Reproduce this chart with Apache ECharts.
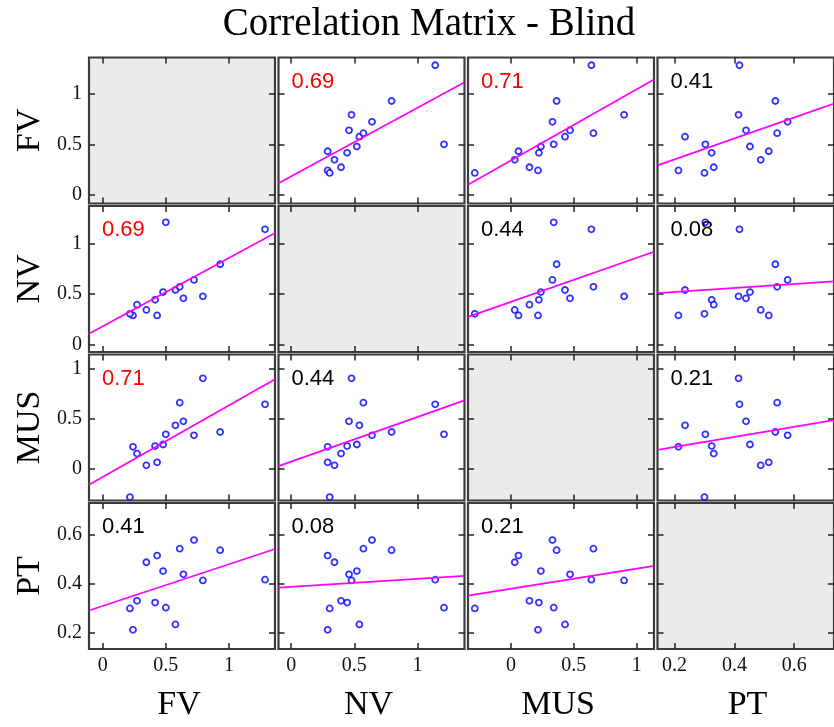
<!DOCTYPE html>
<html><head><meta charset="utf-8">
<script src="https://cdn.jsdelivr.net/npm/echarts@6/dist/echarts.min.js"></script>
<style>html,body{margin:0;padding:0;background:#fff}#c{width:834px;height:727px}</style>
</head><body><div id="c"></div>
<script>
// ---- data ----
const variables = ['FV', 'NV', 'MUS', 'PT'];
const FV  = [1.285, 0.500, 0.930, 0.793, 0.723, 0.639, 0.576, 0.610, 0.478, 0.431, 0.415, 0.346, 0.272, 0.240, 0.216];
const NV  = [1.140, 1.210, 0.795, 0.478, 0.640, 0.458, 0.540, 0.572, 0.520, 0.289, 0.443, 0.343, 0.395, 0.289, 0.305];
const MUS = [0.640, 0.340, 0.363, 0.900, 0.330, 0.470, 0.430, 0.656, 0.238, 0.060, 0.222, 0.030, 0.147, 0.215, -0.288];
const PT  = [0.417, 0.303, 0.537, 0.414, 0.578, 0.439, 0.235, 0.543, 0.452, 0.515, 0.324, 0.488, 0.331, 0.213, 0.300];
const corrLabels = [
  [null, '0.69', '0.71', '0.41'],
  ['0.69', null, '0.44', '0.08'],
  ['0.71', '0.44', null, '0.21'],
  ['0.41', '0.08', '0.21', null]
];
const corrColors = [
  [null, 'red', 'red', 'black'],
  ['red', null, 'black', 'black'],
  ['red', 'black', null, 'black'],
  ['black', 'black', 'black', null]
];
const tickValues = [[0, 0.5, 1], [0, 0.5, 1], [0, 0.5, 1], [0.2, 0.4, 0.6]];
const tickLabels = [['0', '0.5', '1'], ['0', '0.5', '1'], ['0', '0.5', '1'], ['0.2', '0.4', '0.6']];
const xMin = [-0.108, -0.100, -0.342, 0.143];
const xMax = [1.364, 1.372, 1.138, 0.733];
const yMin = [-0.088, -0.073, -0.322, 0.135];
const yMax = [1.362, 1.371, 1.138, 0.729];
const titleText = 'Correlation Matrix - Blind';

// ---- layout ----
const colLeft = [89, 278.5, 468, 657.5];
const rowTop = [57.5, 206, 354.5, 503];
const W = 186, H = 146;
const serif = "'Liberation Serif','Times New Roman',serif";
const sans = "'Liberation Sans',Arial,sans-serif";

const vals = [FV, NV, MUS, PT];

function fit(x, y) {
  const n = x.length;
  let mx = 0, my = 0;
  for (let i = 0; i < n; i++) { mx += x[i]; my += y[i]; }
  mx /= n; my /= n;
  let sxy = 0, sxx = 0;
  for (let i = 0; i < n; i++) { sxy += (x[i] - mx) * (y[i] - my); sxx += (x[i] - mx) * (x[i] - mx); }
  const b = sxy / sxx;
  return { a: my - b * mx, b: b };
}

const grids = [], xAxes = [], yAxes = [], series = [], graphics = [];
const noLine = { show: false, onZero: false };
const tickStyle = { show: true, inside: true, length: 6, lineStyle: { color: '#222', width: 1.5 } };

function tickAxis(k, pos, mn, mx, ticks) {
  return {
    gridIndex: k, type: 'value', position: pos, min: mn, max: mx,
    axisLine: noLine, splitLine: { show: false },
    axisTick: Object.assign({ customValues: ticks }, tickStyle),
    axisLabel: { show: false }
  };
}
function labelAxis(k, pos, mn, mx, ticks, labels) {
  return {
    gridIndex: k, type: 'value', position: pos, min: mn, max: mx,
    axisLine: noLine, splitLine: { show: false }, axisTick: { show: false },
    axisLabel: {
      show: true, customValues: ticks, margin: 7,
      formatter: v => { const idx = ticks.findIndex(t => Math.abs(t - v) < 1e-9); return idx >= 0 ? labels[idx] : ''; },
      fontFamily: serif, fontSize: 20, color: '#111'
    }
  };
}

let k = 0;
for (let i = 0; i < 4; i++) {
  for (let j = 0; j < 4; j++) {
    grids.push({
      left: colLeft[j], top: rowTop[i], width: W, height: H,
      show: true, borderColor: '#3c3c3c', borderWidth: 2.2,
      backgroundColor: i === j ? '#ebebeb' : '#ffffff'
    });
    const xi = xAxes.length, yi = yAxes.length;
    xAxes.push(tickAxis(k, 'bottom', xMin[j], xMax[j], tickValues[j]));
    xAxes.push(tickAxis(k, 'top', xMin[j], xMax[j], tickValues[j]));
    if (i === 3) xAxes.push(labelAxis(k, 'bottom', xMin[j], xMax[j], tickValues[j], tickLabels[j]));
    yAxes.push(tickAxis(k, 'left', yMin[i], yMax[i], tickValues[i]));
    yAxes.push(tickAxis(k, 'right', yMin[i], yMax[i], tickValues[i]));
    if (j === 0) yAxes.push(labelAxis(k, 'left', yMin[i], yMax[i], tickValues[i], tickLabels[i]));
    if (i !== j) {
      const xs = vals[j], ys = vals[i];
      const pts = xs.map((x, n) => [x, ys[n]]);
      series.push({
        type: 'scatter', xAxisIndex: xi, yAxisIndex: yi, data: pts,
        symbol: 'circle', symbolSize: 6,
        itemStyle: { color: '#ffffff', borderColor: '#0000ff', borderWidth: 1.8 },
        z: 2
      });
      const f = fit(xs, ys);
      series.push({
        type: 'line', xAxisIndex: xi, yAxisIndex: yi,
        data: [[xMin[j], f.a + f.b * xMin[j]], [xMax[j], f.a + f.b * xMax[j]]],
        showSymbol: false, symbol: 'none', clip: true,
        lineStyle: { color: '#ff00ff', width: 1.7 }, z: 3
      });
      graphics.push({
        type: 'text', left: colLeft[j] + 13, top: rowTop[i] + 13,
        style: { text: corrLabels[i][j], fill: corrColors[i][j] === 'red' ? '#ff0000' : '#000000', font: '22px ' + sans },
        z: 10
      });
    }
    k++;
  }
}

for (let i = 0; i < 4; i++) {
  graphics.push({
    type: 'text', x: 30, y: rowTop[i] + H / 2, rotation: Math.PI / 2,
    style: { text: variables[i], fill: '#000', font: '34px ' + serif, textAlign: 'center', textVerticalAlign: 'middle' }
  });
}
for (let j = 0; j < 4; j++) {
  graphics.push({
    type: 'text', x: colLeft[j] + W / 2 - 3, y: 705,
    style: { text: variables[j], fill: '#000', font: '34px ' + serif, textAlign: 'center', textVerticalAlign: 'middle' }
  });
}
graphics.push({
  type: 'text', x: 429, y: 25,
  style: { text: titleText, fill: '#000', font: '39px ' + serif, textAlign: 'center', textVerticalAlign: 'middle' }
});

const chart = echarts.init(document.getElementById('c'), null, { renderer: 'canvas' });
chart.setOption({
  animation: false,
  backgroundColor: '#ffffff',
  grid: grids, xAxis: xAxes, yAxis: yAxes, series: series, graphic: graphics
});
</script></body></html>
